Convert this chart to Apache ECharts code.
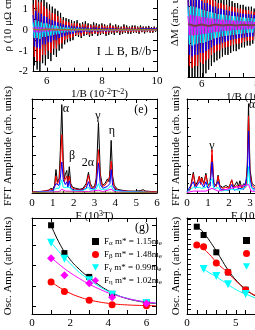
<!DOCTYPE html>
<html><head><meta charset="utf-8">
<script src="https://cdn.jsdelivr.net/npm/echarts@6/dist/echarts.min.js"></script>
<style>html,body{margin:0;padding:0;background:#fff}#c{width:255px;height:330px}</style>
</head><body><div id="c"></div>
<script>
// ---------- Oscillation panels (1/B grid: start 5.5, step 0.05) ----------
const oscStart = 5.5, oscStep = 0.05, oliveStep = 0.25;
const rhoBlack = [1.6,-1.7,2.0,-1.9,1.8,-2.0,1.7,-1.6,1.5,-1.7,1.3,-1.4,1.2,-1.5,1.1,-1.2,1.0,-1.3,0.9,-1.0,0.8,-0.9,0.6,-0.7,0.55,-0.6,0.5,-0.55,0.45,-0.5,0.4,-0.3,0.45,-0.35,0.3,-0.4,0.35,-0.3,0.4,-0.25,0.3,-0.35,0.25,-0.3,0.35,-0.2,0.3,-0.3,0.25,-0.25,0.3,-0.2,0.25,-0.3,0.2,-0.25,0.3,-0.2,0.2,-0.25,0.25,-0.15,0.2,-0.25,0.15,-0.2,0.25,-0.15,0.2,-0.2,0.15,-0.2,0.2,-0.15,0.2,-0.15,0.15,-0.2,0.2,-0.12,0.15,-0.18,0.15,-0.12,0.18,-0.15,0.12,-0.15,0.15,-0.1,0.12];
const rhoRed = [1.2,-1.3,1.5,-1.5,1.3,-1.5,1.3,-1.2,1.1,-1.2,1.0,-1.0,0.9,-1.1,0.8,-0.9,0.75,-0.9,0.65,-0.7,0.55,-0.65,0.45,-0.5,0.4,-0.45,0.35,-0.4,0.3,-0.35,0.3,-0.25,0.3,-0.25,0.2,-0.3,0.25,-0.2,0.25,-0.2,0.2,-0.25,0.2,-0.2,0.2,-0.15,0.2,-0.2,0.15,-0.18,0.2,-0.15,0.18,-0.2,0.15,-0.15,0.2,-0.12,0.15,-0.15,0.15,-0.1,0.12,-0.15,0.1,-0.12,0.15,-0.1,0.12,-0.12,0.1,-0.12,0.12,-0.1,0.12,-0.1,0.1,-0.12,0.12,-0.08,0.1,-0.1,0.1,-0.08,0.1,-0.1,0.08,-0.1,0.1,-0.06,0.08];
const rhoBlue = [0.7,-0.8,0.9,-0.85,0.8,-0.9,0.75,-0.7,0.65,-0.7,0.6,-0.6,0.5,-0.6,0.45,-0.5,0.4,-0.5,0.35,-0.4,0.3,-0.35,0.25,-0.3,0.22,-0.25,0.2,-0.22,0.18,-0.2,0.15,-0.15,0.15,-0.12,0.12,-0.15,0.12,-0.1,0.12,-0.1,0.1,-0.12,0.1,-0.1,0.1,-0.08,0.1,-0.1,0.08,-0.08,0.1,-0.08,0.08,-0.1,0.08,-0.08,0.08,-0.06,0.08,-0.08,0.06,-0.06,0.06,-0.08,0.05,-0.06,0.06,-0.05,0.06,-0.06,0.05,-0.05,0.05,-0.05,0.05,-0.05,0.05,-0.05,0.05,-0.04,0.05,-0.04,0.04,-0.04,0.04,-0.04,0.04,-0.04,0.04,-0.03,0.04];
const rhoCyan = [0.35,-0.4,0.45,-0.4,0.4,-0.45,0.35,-0.35,0.3,-0.35,0.3,-0.3,0.25,-0.28,0.22,-0.25,0.2,-0.22,0.18,-0.2,0.15,-0.15,0.12,-0.14,0.1,-0.12,0.1,-0.1,0.08,-0.1,0.07,-0.07,0.06,-0.06,0.05,-0.06,0.05,-0.05,0.05,-0.05,0.04,-0.05,0.04,-0.04,0.04,-0.04,0.04,-0.04,0.03,-0.04,0.03,-0.03,0.03,-0.03,0.03,-0.03,0.03,-0.03,0.03,-0.03,0.03,-0.02,0.03,-0.03,0.02,-0.02,0.02,-0.03,0.02,-0.02,0.02,-0.02,0.02,-0.02,0.02,-0.02,0.02,-0.02,0.02,-0.02,0.02,-0.02,0.02,-0.02,0.02,-0.02,0.02,-0.02,0.02,-0.02,0.02];
const rhoMagenta = [0.12,-0.12,0.14,-0.13,0.12,-0.14,0.11,-0.1,0.1,-0.1,0.09,-0.09,0.08,-0.08,0.07,-0.07,0.06,-0.06,0.05,-0.05,0.04,-0.04,0.04,-0.04,0.03,-0.03,0.03,-0.03,0.03,-0.03,0.02,-0.02,0.02,-0.02,0.02,-0.02,0.02,-0.02,0.02,-0.02,0.02,-0.02,0.02,-0.02,0.02,-0.02,0.02,-0.02,0.02,-0.02,0.02,-0.02,0.02,-0.02,0.02,-0.02,0.02,-0.02,0.02,-0.02,0.02,-0.02,0.02,-0.02,0.02,-0.02,0.02,-0.02,0.02,-0.02,0.02,-0.02,0.02,-0.02,0.02,-0.02,0.02,-0.02,0.02,-0.02,0.02,-0.02,0.02,-0.02,0.02,-0.02,0.02,-0.02,0.02,-0.02,0.02];
const rhoOlive = [0.02,-0.01,0.02,0,0.01,-0.01,0.01,0,0.01,0,0.01,0,0,0.01,0,0,0.01,0,0];

const dmBlack = [1.3,-1.5,1.5,-1.6,1.4,-1.5,1.4,-1.6,1.3,-1.4,1.2,-1.5,1.2,-1.3,1.1,-1.2,1.0,-1.1,0.9,-1.0,0.9,-0.95,0.85,-0.9,0.8,-0.85,0.75,-0.8,0.7,-0.8,0.7,-0.75,0.65,-0.7,0.6,-0.7,0.6,-0.65,0.55,-0.6,0.55,-0.6,0.5,-0.55,0.5,-0.55,0.5,-0.5,0.45,-0.5,0.45,-0.5,0.45,-0.45,0.4];
const dmRed = [1.0,-1.1,1.1,-1.15,1.05,-1.1,1.0,-1.1,0.95,-1.0,0.9,-1.05,0.85,-0.95,0.8,-0.9,0.75,-0.8,0.7,-0.75,0.65,-0.7,0.6,-0.68,0.6,-0.62,0.55,-0.6,0.55,-0.58,0.5,-0.55,0.5,-0.52,0.48,-0.5,0.45,-0.5,0.45,-0.48,0.42,-0.45,0.4,-0.42,0.4,-0.42,0.38,-0.4,0.36,-0.4,0.36,-0.38,0.35,-0.36,0.34];
const dmBlue = [0.75,-0.8,0.8,-0.85,0.8,-0.8,0.75,-0.8,0.7,-0.75,0.65,-0.75,0.6,-0.7,0.6,-0.65,0.55,-0.6,0.5,-0.55,0.5,-0.52,0.45,-0.5,0.45,-0.47,0.42,-0.45,0.4,-0.42,0.38,-0.4,0.37,-0.38,0.35,-0.37,0.34,-0.35,0.32,-0.34,0.31,-0.33,0.3,-0.32,0.3,-0.31,0.29,-0.3,0.28,-0.3,0.27,-0.28,0.27,-0.27,0.26];
const dmCyan = [0.5,-0.52,0.52,-0.55,0.5,-0.52,0.48,-0.5,0.45,-0.48,0.42,-0.48,0.4,-0.45,0.38,-0.42,0.36,-0.4,0.34,-0.36,0.32,-0.34,0.3,-0.32,0.29,-0.3,0.28,-0.29,0.27,-0.28,0.26,-0.27,0.25,-0.26,0.24,-0.25,0.23,-0.24,0.22,-0.23,0.21,-0.22,0.2,-0.21,0.2,-0.2,0.19,-0.2,0.18,-0.19,0.18,-0.18,0.17,-0.18,0.17];
const dmMagenta = [0.25,-0.27,0.28,-0.28,0.26,-0.27,0.25,-0.26,0.24,-0.25,0.22,-0.24,0.21,-0.23,0.2,-0.21,0.19,-0.2,0.18,-0.19,0.17,-0.18,0.16,-0.17,0.15,-0.16,0.15,-0.15,0.14,-0.15,0.13,-0.14,0.13,-0.13,0.12,-0.13,0.12,-0.12,0.11,-0.12,0.11,-0.11,0.1,-0.11,0.1,-0.1,0.1,-0.1,0.09,-0.1,0.09,-0.09,0.09,-0.09,0.08];
const dmOlive = [0.03,-0.02,0.02,-0.02,0.02,-0.01,0.01,-0.01,0.01,0,0.01,0];

// ---------- FFT panels: [F (10^3 T), amplitude] ----------
const fftLBlack = [[0,1],[0.3,1.5],[0.6,2],[0.8,3],[0.9,5],[1.0,4],[1.08,8],[1.15,25],[1.22,12],[1.3,15],[1.36,45],[1.43,94],[1.5,35],[1.55,15],[1.6,20],[1.67,24],[1.72,10],[1.79,28],[1.86,10],[1.95,6],[2.1,5],[2.3,4],[2.45,5],[2.6,10],[2.71,22],[2.8,10],[2.9,6],[3.0,7],[3.08,15],[3.19,75],[3.28,20],[3.38,8],[3.5,10],[3.62,15],[3.7,12],[3.74,25],[3.8,56],[3.87,18],[3.95,8],[4.1,4],[4.3,3],[4.6,2],[5.0,2],[5.2,2.5],[5.34,3.5],[5.45,2],[5.8,1.5],[6.0,1]];
const fftLRed = [[0,1],[0.4,1.5],[0.8,3],[0.9,4],[1.0,3.5],[1.08,6],[1.15,18],[1.22,10],[1.3,13],[1.36,30],[1.43,62],[1.5,25],[1.55,12],[1.6,15],[1.67,18],[1.72,8],[1.79,18],[1.86,8],[1.95,5],[2.1,4],[2.3,3.5],[2.45,4],[2.6,8],[2.71,19],[2.8,8],[2.9,5],[3.0,6],[3.08,12],[3.19,46],[3.28,15],[3.38,7],[3.5,8],[3.62,12],[3.7,10],[3.74,18],[3.8,34],[3.87,14],[3.95,6],[4.1,3],[4.3,2.5],[4.6,2],[5.0,1.5],[5.34,2],[6.0,1]];
const fftLBlue = [[0,0.5],[0.8,2],[1.0,2.5],[1.15,10],[1.3,8],[1.36,16],[1.43,33],[1.5,14],[1.6,9],[1.67,12],[1.72,6],[1.79,13],[1.86,5],[2.0,3],[2.4,3],[2.6,5],[2.71,12],[2.8,5],[3.0,4],[3.08,8],[3.19,32],[3.28,9],[3.4,5],[3.62,7],[3.74,10],[3.8,25],[3.87,8],[4.0,3],[4.4,2],[5,1],[6,0.5]];
const fftLCyan = [[0,0.5],[1.0,1.5],[1.15,5],[1.3,5],[1.43,14],[1.5,6],[1.67,6],[1.79,6],[1.9,3],[2.4,2],[2.71,6],[2.8,3],[3.08,4],[3.19,10],[3.28,4],[3.62,4],[3.8,8],[3.9,3],[4.4,1.5],[6,0.5]];
const fftLMagenta = [[0,0.3],[1.3,1.5],[1.43,4],[1.6,2],[2.71,1.5],[3.19,3],[3.4,1.5],[3.8,4],[4,1],[6,0.3]];
const fftLOlive = [[0,0.4],[1.43,1],[3.19,0.8],[3.8,0.8],[6,0.3]];

const fftRBlack = [[0,2],[0.15,4],[0.3,22],[0.4,8],[0.5,12],[0.59,18],[0.65,10],[0.7,17],[0.8,10],[0.9,21],[1.0,8],[1.1,12],[1.19,40],[1.28,10],[1.4,8],[1.48,19],[1.56,8],[1.7,6],[1.85,8],[2.0,6],[2.13,14],[2.22,6],[2.37,12],[2.45,7],[2.52,13],[2.6,6],[2.7,10],[2.8,8],[2.87,30],[2.93,95],[3.0,25],[3.1,10],[3.2,8],[3.4,6],[3.6,5],[4,4],[5,3],[6,2]];
const fftRRed = [[0,2],[0.15,3],[0.3,20],[0.4,7],[0.5,10],[0.59,18],[0.65,9],[0.7,16],[0.8,9],[0.9,19],[1.0,7],[1.1,10],[1.19,46],[1.28,9],[1.4,7],[1.48,18],[1.56,7],[1.7,5],[1.85,6],[2.0,5],[2.13,14],[2.22,5],[2.37,8],[2.45,5],[2.52,9],[2.6,5],[2.7,7],[2.8,6],[2.87,25],[2.93,82],[3.0,20],[3.1,8],[3.2,6],[3.6,4],[4,3],[6,2]];
const fftRBlue = [[0,1.5],[0.3,12],[0.4,5],[0.59,12],[0.7,10],[0.8,6],[0.9,12],[1.0,5],[1.1,7],[1.19,33],[1.28,6],[1.48,12],[1.6,4],[2.0,3],[2.13,9],[2.25,3],[2.52,5],[2.7,4],[2.87,18],[2.93,66],[3.0,15],[3.1,5],[3.4,3],[4,2],[6,1]];
const fftRCyan = [[0,1],[0.3,6],[0.59,6],[0.7,5],[0.9,6],[1.19,15],[1.28,4],[1.48,6],[1.6,2],[2.13,4],[2.52,3],[2.87,8],[2.93,28],[3.0,8],[3.2,2],[4,1],[6,0.5]];
const fftRMagenta = [[0,0.5],[0.3,2],[0.9,2],[1.19,5],[1.48,2],[2.93,9],[3.05,2],[4,0.5],[6,0.5]];

// ---------- Temperature dependence ----------
const tempK = [1.0, 1.7, 3.0, 4.2, 6.0];
const ampAlphaL = [4.0, 2.62, 1.44, 0.6, 0.15];
const ampBetaL = [1.19, 0.71, 0.28, 0.06, 0.01];
const ampGammaL = [3.13, 2.34, 1.27, 0.56, 0.15];
const ampEtaL = [2.36, 1.52, 1.12, 0.43, 0.12];
const fitTL = [1,1.5,2,2.5,3,3.5,4,4.5,5,5.5,6,6.5];
const fitAlphaL = [4.0,3.0,2.3,1.8,1.4,1.05,0.75,0.52,0.36,0.25,0.17,0.12];
const fitBetaL = [1.2,0.88,0.63,0.44,0.3,0.2,0.13,0.08,0.05,0.03,0.02,0.01];
const fitGammaL = [3.15,2.6,2.1,1.65,1.3,0.98,0.72,0.52,0.38,0.27,0.2,0.14];
const fitEtaL = [2.4,2.0,1.65,1.35,1.08,0.85,0.65,0.5,0.37,0.27,0.2,0.14];
const massL = ['1.15','1.48','0.99','1.02'];
const bandL = ['α','β','γ','η'];

const ampAlphaR = [8.73, 7.9, 6.17, 4.17, 2.43];
const ampBetaR = [6.9, 6.73, 5.1, 4.17, 2.4];
const tempKg = [1.7, 3.0, 4.2, 6.0];
const ampGammaR = [4.5, 3.8, 2.97, 2.0];
const fitTR = [1,1.5,2,2.5,3,3.5,4,4.5,5,5.5,6,6.5,7,7.5];
const fitAlphaR = [8.8,8.35,7.75,7.05,6.3,5.5,4.7,4.0,3.4,2.9,2.45,2.1,1.8,1.55];
const fitBetaR = [6.95,6.65,6.25,5.75,5.15,4.7,4.3,3.8,3.3,2.85,2.45,2.12,1.85,1.6];
const fitTRg = [1.7,2,2.5,3,3.5,4,4.5,5,5.5,6,6.5,7,7.5];
const fitGammaR = [4.5,4.3,4.0,3.75,3.4,3.1,2.75,2.45,2.2,2.0,1.8,1.6,1.4];

// ---------- helpers ----------
const FF = 'Liberation Serif';
const RICH = {sup:{fontSize:8, fontFamily:FF, color:'#000', verticalAlign:'top', padding:[0,0,5,0]},
              sub:{fontSize:7, fontFamily:FF, color:'#000', verticalAlign:'bottom', padding:[4,0,0,0]}};
const seq = (vals, start, step) => vals.map((v, i) => [+(start + i * step).toFixed(3), v]);
const zip = (xs, ys) => xs.map((x, i) => [x, ys[i]]);

function axisPair(dim, gi, o) {
  const common = {
    type:'value', gridIndex:gi, min:o.min, max:o.max,
    axisLine:{show:true, onZero:false, lineStyle:{color:'#000', width:1}},
    axisTick:{show:true, inside:true, length:4, lineStyle:{color:'#000', width:1}},
    minorTick:{show:!!o.minor, splitNumber:o.minor || 5, length:2, lineStyle:{color:'#000', width:1}},
    splitLine:{show:false}, minorSplitLine:{show:false}, silent:true
  };
  if (o.interval != null) common.interval = o.interval;
  if (o.ticks) common.axisTick.customValues = o.ticks;
  const lab = o.labels === false ? {show:false} :
    Object.assign({show:true, color:'#000', fontFamily:FF, fontSize:11, margin:o.margin == null ? 4 : o.margin},
      o.labels ? {customValues:o.labels} : {});
  const main = Object.assign({}, common, {
    position: dim === 'x' ? 'bottom' : 'left', axisLabel: lab,
    name: o.name || '', nameLocation:'middle', nameGap: o.nameGap || 0,
    nameTextStyle:{color:'#000', fontFamily:FF, fontSize:11, padding:o.namePad || 0, rich:RICH}
  });
  const mirror = Object.assign({}, common, {position: dim === 'x' ? 'top' : 'right', axisLabel:{show:false}, name:''});
  return [main, mirror];
}

const G = (left, top, width, height) => ({left, top, width, height, containLabel:false, outerBoundsMode:'none'});
const grids = [
  G(33, -28, 124, 99.6),     // rho osc
  G(188, -52.5, 124, 129.5), // dM osc
  G(32, 99, 125, 94),        // FFT L
  G(187, 99, 126, 94),       // FFT R
  G(32, 218, 124, 96),       // amp L
  G(187, 218, 127, 96)       // amp R
];

const invBName = '1/B (10{sup|-2}T{sup|-2})';
const fName = 'F (10{sup|3}T)';
const xAxes = [].concat(
  axisPair('x', 0, {min:5.5, max:10, interval:0.5, labels:[6,8,10], margin:4, name:invBName, nameGap:13, namePad:[0,0,0,9]}),
  axisPair('x', 1, {min:5.5, max:10, interval:0.5, labels:[6,8,10], margin:2, name:invBName, nameGap:10, namePad:[0,0,0,9]}),
  axisPair('x', 2, {min:0, max:6, interval:1, minor:2, margin:5, name:fName, nameGap:14}),
  axisPair('x', 3, {min:0, max:6, interval:1, minor:2, margin:5, name:fName, nameGap:14}),
  axisPair('x', 4, {min:0, max:6.5, interval:1, labels:[0,2,4,6], margin:4, name:'T (K)', nameGap:4, namePad:[0,10,0,0]}),
  axisPair('x', 5, {min:0, max:13, interval:1, labels:[0,5,10], margin:4, name:'T (K)', nameGap:4, namePad:[0,0,0,24]})
);
const yAxes = [].concat(
  axisPair('y', 0, {min:-2, max:2.75, ticks:[-2,-1.5,-1,-0.5,0,0.5,1,1.5,2,2.5], labels:[-2,-1,0,1,2], margin:5, name:'ρ (10 μΩ cm)', nameGap:19}),
  axisPair('y', 1, {min:-1.4, max:2.1, ticks:[-1,-0.5,0,0.5,1,1.5,2], labels:false, name:'ΔM (arb. units)', nameGap:7}),
  axisPair('y', 2, {min:0, max:100, interval:20, minor:2, labels:false, name:'FFT Amplitude (arb. units)', nameGap:18}),
  axisPair('y', 3, {min:0, max:100, interval:20, minor:2, labels:false, name:'FFT Amplitude (arb. units)', nameGap:5}),
  axisPair('y', 4, {min:-0.4, max:4.36, ticks:[0,1,2,3,4], labels:false, name:'Osc. Amp. (arb. units)', nameGap:18}),
  axisPair('y', 5, {min:0, max:9.6, interval:0.5, labels:false, name:'Osc. Amp. (arb. units)', nameGap:5})
);

function line(gi, data, color, w, smooth) {
  return {type:'line', xAxisIndex:2*gi, yAxisIndex:2*gi, data, symbol:'none', showSymbol:false,
    smooth: !!smooth, lineStyle:{color, width:w}, itemStyle:{color}, silent:true, animation:false, clip:true};
}
function dots(gi, name, xs, ys, color, symbol, size) {
  return {type:'scatter', name, xAxisIndex:2*gi, yAxisIndex:2*gi, data:zip(xs, ys), symbol, symbolSize:size,
    itemStyle:{color, opacity:1}, silent:true, animation:false, z:5};
}
const DOWN_TRI = 'path://M0,0L10,0L5,9Z';
const C = {k:'#000000', r:'#ff0000', b:'#0000ff', c:'#00ffff', m:'#ff00ff', o:'#8a7a30'};

const series = [
  line(0, seq(rhoBlack, oscStart, oscStep), C.k, 1),
  line(0, seq(rhoRed, oscStart, oscStep), C.r, 1),
  line(0, seq(rhoBlue, oscStart, oscStep), C.b, 1),
  line(0, seq(rhoCyan, oscStart, oscStep), C.c, 1),
  line(0, seq(rhoMagenta, oscStart, oscStep), C.m, 1),
  line(0, seq(rhoOlive, oscStart, oliveStep), C.o, 1.5),
  line(1, seq(dmBlack, oscStart, oscStep), C.k, 1),
  line(1, seq(dmRed, oscStart, oscStep), C.r, 1),
  line(1, seq(dmBlue, oscStart, oscStep), C.b, 1),
  line(1, seq(dmCyan, oscStart, oscStep), C.c, 1),
  line(1, seq(dmMagenta, oscStart, oscStep), C.m, 1),
  line(1, seq(dmOlive, oscStart, oliveStep), '#7a3a50', 2),
  line(2, fftLBlack, C.k, 1), line(2, fftLRed, C.r, 1), line(2, fftLBlue, C.b, 1),
  line(2, fftLCyan, C.c, 1), line(2, fftLMagenta, C.m, 1), line(2, fftLOlive, C.o, 1),
  line(3, fftRBlack, C.k, 1), line(3, fftRRed, C.r, 1), line(3, fftRBlue, C.b, 1),
  line(3, fftRCyan, C.c, 1), line(3, fftRMagenta, C.m, 1),
  line(4, zip(fitTL, fitAlphaL), C.k, 1, true),
  line(4, zip(fitTL, fitBetaL), C.r, 1, true),
  line(4, zip(fitTL, fitGammaL), C.c, 1, true),
  line(4, zip(fitTL, fitEtaL), C.m, 1, true),
  dots(4, 'Fα', tempK, ampAlphaL, C.k, 'rect', 6),
  dots(4, 'Fβ', tempK, ampBetaL, C.r, 'circle', 7),
  dots(4, 'Fγ', tempK, ampGammaL, C.c, DOWN_TRI, 8),
  dots(4, 'Fη', tempK, ampEtaL, C.m, 'diamond', 8),
  line(5, zip(fitTR, fitAlphaR), C.k, 1, true),
  line(5, zip(fitTR, fitBetaR), C.r, 1, true),
  line(5, zip(fitTRg, fitGammaR), C.c, 1, true),
  dots(5, 'RFα', tempK, ampAlphaR, C.k, 'rect', 6),
  dots(5, 'RFβ', tempK, ampBetaR, C.r, 'circle', 7),
  dots(5, 'RFγ', tempKg, ampGammaR, C.c, DOWN_TRI, 8)
];

const legendText = {color:'#000', fontFamily:FF, fontSize:9, rich:RICH};
const legends = [
  {data:['Fα','Fβ','Fγ','Fη'], orient:'vertical', left:92, top:237, itemWidth:7, itemHeight:7, itemGap:3,
   textStyle:legendText, selectedMode:false, padding:0,
   formatter: (n) => { const i = ['Fα','Fβ','Fγ','Fη'].indexOf(n); return 'F{sub|' + bandL[i] + '} m* = ' + massL[i] + 'm{sub|e}'; }},
  {data:['RFα','RFβ','RFγ'], orient:'vertical', left:243, top:236, itemWidth:7, itemHeight:7, itemGap:3,
   textStyle:legendText, selectedMode:false, padding:0,
   formatter: (n) => 'F{sub|' + bandL[['RFα','RFβ','RFγ'].indexOf(n)] + '}'}
];

const T = (text, x, y, size, align) => ({type:'text', x, y, silent:true,
  style:{text, fill:'#000', font: (size || 12) + 'px "Liberation Serif"', align: align || 'center', verticalAlign:'middle'}});
const graphics = [
  T('I ⊥ B, B//b', 124, 52, 12),
  T('(e)', 141, 110, 12),
  T('(g)', 142, 228, 12),
  T('α', 66, 109, 12), T('β', 72, 156, 12), T('2α', 88, 163, 12), T('γ', 98, 116, 12), T('η', 112, 131, 12),
  T('γ', 212, 146, 12), T('α', 252, 105, 12)
];

const chart = echarts.init(document.getElementById('c'), null, {renderer:'canvas', width:255, height:330});
chart.setOption({
  animation:false, backgroundColor:'#fff',
  grid: grids, xAxis: xAxes, yAxis: yAxes, series, legend: legends,
  graphic: {elements: graphics}
});
</script></body></html>
